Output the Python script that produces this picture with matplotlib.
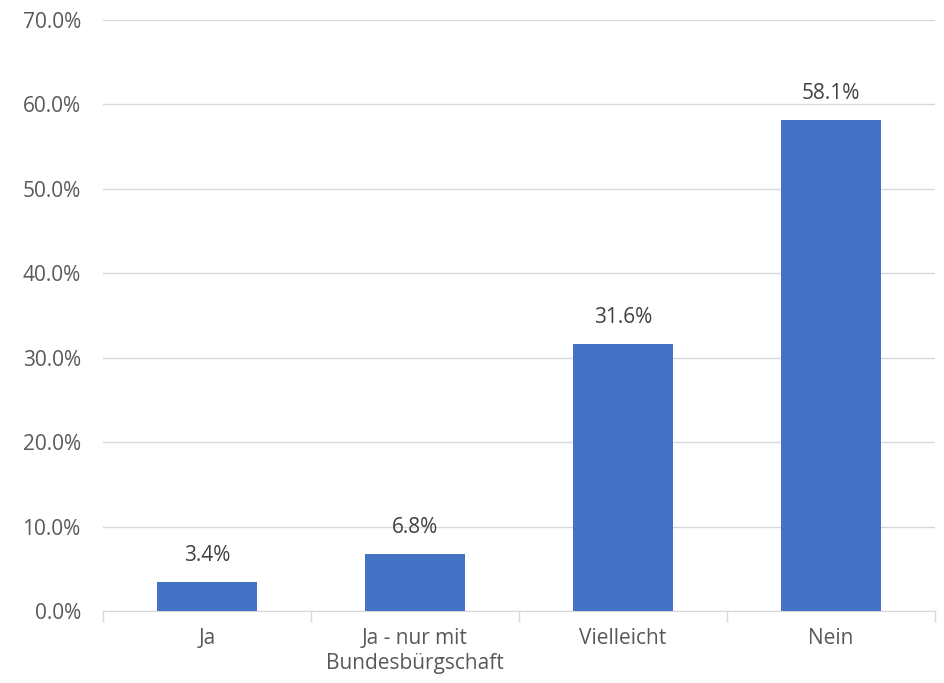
import matplotlib
matplotlib.use("Agg")
import matplotlib.pyplot as plt
from matplotlib.ticker import FuncFormatter

plt.rcParams['font.family'] = ['Open Sans', 'DejaVu Sans']

categories = ["Ja", "Ja - nur mit\nBundesbürgschaft", "Vielleicht", "Nein"]
values = [3.4, 6.8, 31.6, 58.1]
yticks = [0, 10, 20, 30, 40, 50, 60, 70]

fig = plt.figure(figsize=(9.44, 6.83), dpi=100)
ax = fig.add_axes([103 / 944, 72 / 683, 832 / 944, 591 / 683])

x = range(len(categories))
ax.bar(x, values, width=0.48, color="#4472C4", zorder=3)
for xi, v in zip(x, values):
    ax.text(xi, v + 1.9, f"{v:.1f}%", ha="center", va="bottom",
            fontsize=15, color="#404040")

ax.set_xlim(-0.5, len(categories) - 0.5)
ax.set_ylim(0, 70)
ax.set_yticks(yticks)
ax.yaxis.set_major_formatter(FuncFormatter(lambda v, _: f"{v:.1f}%"))
ax.grid(axis="y", color="#D9D9D9", linewidth=1, zorder=0)

ax.set_xticks(list(x))
ax.set_xticklabels(categories, fontsize=15, color="#595959", linespacing=1.25)
ax.tick_params(axis="x", length=0, pad=12)
ax.set_xticks([i - 0.5 for i in range(len(categories) + 1)], minor=True)
ax.tick_params(axis="x", which="minor", length=8, color="#D9D9D9", width=1)
ax.tick_params(axis="y", length=0, labelsize=15, labelcolor="#595959", pad=16)

for side in ("top", "right", "left"):
    ax.spines[side].set_visible(False)
ax.spines["bottom"].set_color("#D9D9D9")

fig.savefig("out.png", dpi=100)
